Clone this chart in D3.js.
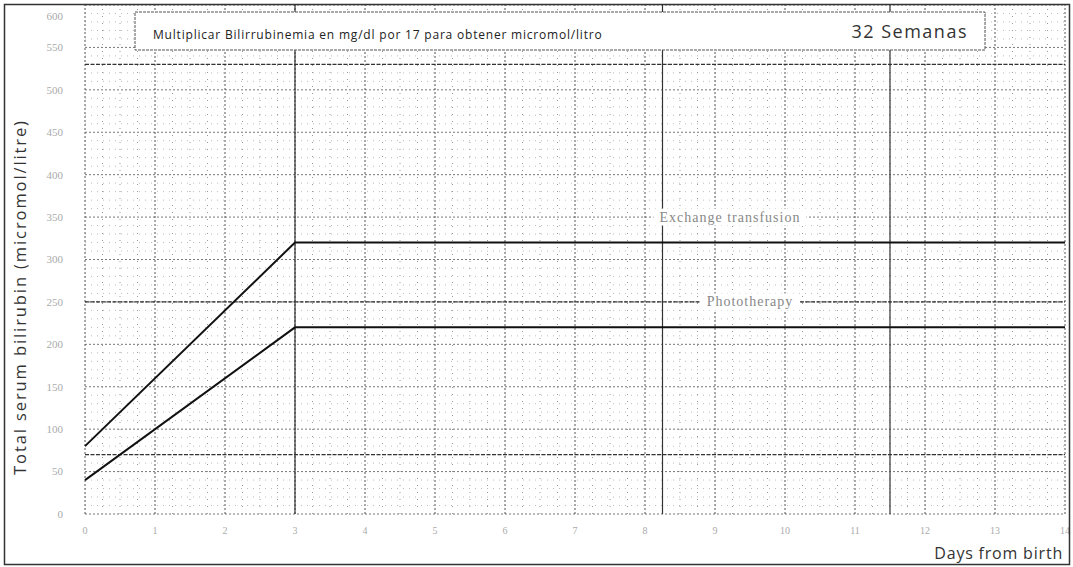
<!DOCTYPE html>
<html>
<head>
<meta charset="utf-8">
<script src="https://cdn.jsdelivr.net/npm/d3@7"></script>
<style>
  html, body { margin: 0; padding: 0; background: #fff; }
  svg { display: block; }
</style>
</head>
<body>
<svg id="chart" width="1073" height="567"></svg>
<script>
// Treatment thresholds for 32 weeks gestation (micromol/litre by day of life)
const days = [0, 3, 14];
const exchangeTransfusion = [80, 320, 320];
const phototherapy = [40, 220, 220];

// Axis ticks
const dayTicks = d3.range(0, 15);
const bilirubinTicks = d3.range(0, 601, 50);
// Darker rules in the printed grid
const strongDayRules = [3, 8.25, 11.5];
const strongLevelRules = [70, 250, 530];

const title = "Multiplicar Bilirrubinemia en mg/dl por 17 para obtener micromol/litro";
const badge = "32 Semanas";
const yTitle = "Total serum bilirubin  (micromol/litre)";
const xTitle = "Days from birth";
const exchangeLabel = "Exchange transfusion";
const photoLabel = "Phototherapy";

const W = 1073, H = 567;
const margin = { left: 85, right: 8, top: 5, bottom: 53 };

const svg = d3.select("#chart");
svg.append("rect").attr("width", W).attr("height", H).attr("fill", "#fff");

const x = d3.scaleLinear().domain([0, 14]).range([margin.left, W - margin.right]);
const y = d3.scaleLinear().domain([0, 600]).range([H - margin.bottom, margin.top]);

const grid = svg.append("g");

// Minor level rules every 10 micromol/litre
grid.selectAll("line.hmin")
  .data(d3.range(0, 601, 10))
  .join("line")
  .attr("x1", x(0)).attr("x2", x(14))
  .attr("y1", d => y(d)).attr("y2", d => y(d))
  .attr("stroke", d => d % 50 === 0 ? "#777" : "#bbb")
  .attr("stroke-width", 1)
  .attr("stroke-dasharray", d => d % 50 === 0 ? "2,2" : "1,5");

// Minor day rules every 6 hours
grid.selectAll("line.vmin")
  .data(d3.range(0, 14.01, 0.25))
  .join("line")
  .attr("x1", d => x(d)).attr("x2", d => x(d))
  .attr("y1", y(0)).attr("y2", y(600))
  .attr("stroke", d => Number.isInteger(d) ? "#555" : "#999")
  .attr("stroke-width", 1)
  .attr("stroke-dasharray", d => Number.isInteger(d) ? "2,2" : "1,6");

// Darker printed rules
grid.selectAll("line.hstrong")
  .data(strongLevelRules)
  .join("line")
  .attr("x1", x(0)).attr("x2", x(14))
  .attr("y1", d => y(d)).attr("y2", d => y(d))
  .attr("stroke", "#333")
  .attr("stroke-width", 1.2)
  .attr("stroke-dasharray", "4,1.5");

grid.selectAll("line.vstrong")
  .data(strongDayRules)
  .join("line")
  .attr("x1", d => x(d)).attr("x2", d => x(d))
  .attr("y1", y(0)).attr("y2", y(600))
  .attr("stroke", "#333")
  .attr("stroke-width", 1.2);

// Threshold lines
const line = d3.line()
  .x((d, i) => x(days[i]))
  .y(d => y(d));

svg.append("path")
  .datum(exchangeTransfusion)
  .attr("d", line)
  .attr("fill", "none")
  .attr("stroke", "#111")
  .attr("stroke-width", 2);

svg.append("path")
  .datum(phototherapy)
  .attr("d", line)
  .attr("fill", "none")
  .attr("stroke", "#111")
  .attr("stroke-width", 2);

// Labels sitting on the grid with a white knock-out
function gridLabel(text, cx, level, size) {
  const g = svg.append("g");
  const t = g.append("text")
    .attr("x", cx).attr("y", y(level))
    .attr("text-anchor", "middle")
    .attr("dominant-baseline", "central")
    .attr("font-family", "Liberation Serif, serif")
    .attr("font-size", size)
    .attr("letter-spacing", 1)
    .attr("fill", "#888")
    .text(text);
  const bb = t.node().getBBox();
  g.insert("rect", "text")
    .attr("x", bb.x - 6).attr("y", bb.y - 1)
    .attr("width", bb.width + 12).attr("height", bb.height + 2)
    .attr("fill", "#fff");
}
gridLabel(exchangeLabel, 730, 350, 14);
gridLabel(photoLabel, 750, 250, 14);

// Y tick labels
svg.append("g").selectAll("text")
  .data(bilirubinTicks)
  .join("text")
  .attr("x", x(0) - 22)
  .attr("y", d => Math.max(y(d), 16))
  .attr("dy", "0.35em")
  .attr("text-anchor", "end")
  .attr("font-family", "Liberation Serif, serif")
  .attr("font-size", 11)
  .attr("fill", "#aaa")
  .text(d => d);

// X tick labels
svg.append("g").selectAll("text")
  .data(dayTicks)
  .join("text")
  .attr("x", d => x(d))
  .attr("y", y(0) + 16)
  .attr("dy", "0.35em")
  .attr("text-anchor", "middle")
  .attr("font-family", "Liberation Serif, serif")
  .attr("font-size", 10)
  .attr("fill", "#aaa")
  .text(d => d);

// Title box
svg.append("rect")
  .attr("x", 135).attr("y", 12)
  .attr("width", 850).attr("height", 38)
  .attr("fill", "#fff")
  .attr("stroke", "#555")
  .attr("stroke-width", 1)
  .attr("stroke-dasharray", "3,1");

svg.append("text")
  .attr("x", 153).attr("y", 39)
  .attr("font-family", "Open Sans, sans-serif")
  .attr("font-size", 12)
  .attr("letter-spacing", 0.8)
  .attr("fill", "#222")
  .text(title);

svg.append("text")
  .attr("x", 968).attr("y", 38)
  .attr("text-anchor", "end")
  .attr("font-family", "Open Sans, sans-serif")
  .attr("font-size", 18)
  .attr("letter-spacing", 1.5)
  .attr("fill", "#333")
  .text(badge);

// Axis titles
svg.append("text")
  .attr("transform", `translate(26, 297) rotate(-90)`)
  .attr("text-anchor", "middle")
  .attr("font-family", "Open Sans, sans-serif")
  .attr("font-size", 16.5)
  .attr("letter-spacing", 1.9)
  .attr("fill", "#333")
  .text(yTitle);

svg.append("text")
  .attr("x", 1063).attr("y", 559)
  .attr("text-anchor", "end")
  .attr("font-family", "Open Sans, sans-serif")
  .attr("font-size", 16)
  .attr("letter-spacing", 0.8)
  .attr("fill", "#333")
  .text(xTitle);

// Page frame
svg.append("rect")
  .attr("x", 4.5).attr("y", 4.5)
  .attr("width", 1065).attr("height", 560)
  .attr("fill", "none")
  .attr("stroke", "#333")
  .attr("stroke-width", 1.5);
</script>
</body>
</html>
